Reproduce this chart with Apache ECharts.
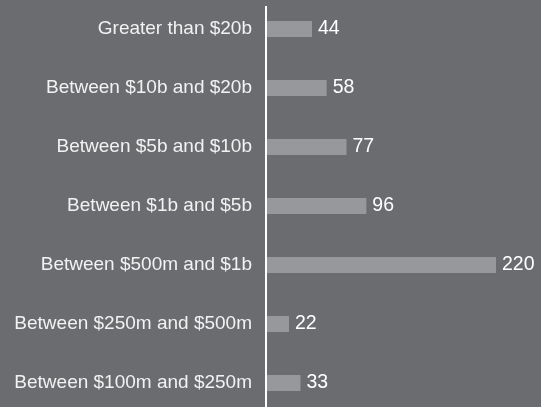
<!DOCTYPE html>
<html>
<head>
<meta charset="utf-8">
<script src="https://cdn.jsdelivr.net/npm/echarts@6/dist/echarts.min.js"></script>
<style>
html,body{margin:0;padding:0;background:#6b6c70;}
#c{width:541px;height:407px;}
</style>
</head>
<body>
<div id="c"></div>
<script>
const categories = [
  "Greater than $20b",
  "Between $10b and $20b",
  "Between $5b and $10b",
  "Between $1b and $5b",
  "Between $500m and $1b",
  "Between $250m and $500m",
  "Between $100m and $250m"
];
const values = [44, 58, 77, 96, 220, 22, 33];
const xMax = 220;

const chart = echarts.init(document.getElementById('c'), null, {renderer: 'canvas'});
chart.setOption({
  backgroundColor: '#6b6c70',
  animation: false,
  grid: {left: 266, right: 45, top: -0.5, height: 413, containLabel: false, outerBoundsMode: 'none'},
  xAxis: {
    type: 'value', min: 0, max: xMax, show: false,
    splitLine: {show: false}
  },
  yAxis: {
    type: 'category', data: categories, inverse: true, z: 3,
    axisLine: {show: false},
    axisTick: {show: false},
    splitLine: {show: false},
    axisLabel: {
      color: '#f2f2f2', fontSize: 19, margin: 14,
      fontFamily: 'Liberation Sans, Arial, sans-serif'
    }
  },
  graphic: [{
    type: 'line', z: 10,
    shape: {x1: 266, y1: 6, x2: 266, y2: 407},
    style: {stroke: '#ffffff', lineWidth: 2}
  }],
  series: [{
    type: 'bar', data: values, barWidth: 16,
    itemStyle: {color: '#97989c'},
    label: {
      show: true, position: 'right', distance: 6,
      color: '#ffffff', fontSize: 19.5,
      fontFamily: 'Liberation Sans, Arial, sans-serif'
    }
  }]
});
</script>
</body>
</html>
